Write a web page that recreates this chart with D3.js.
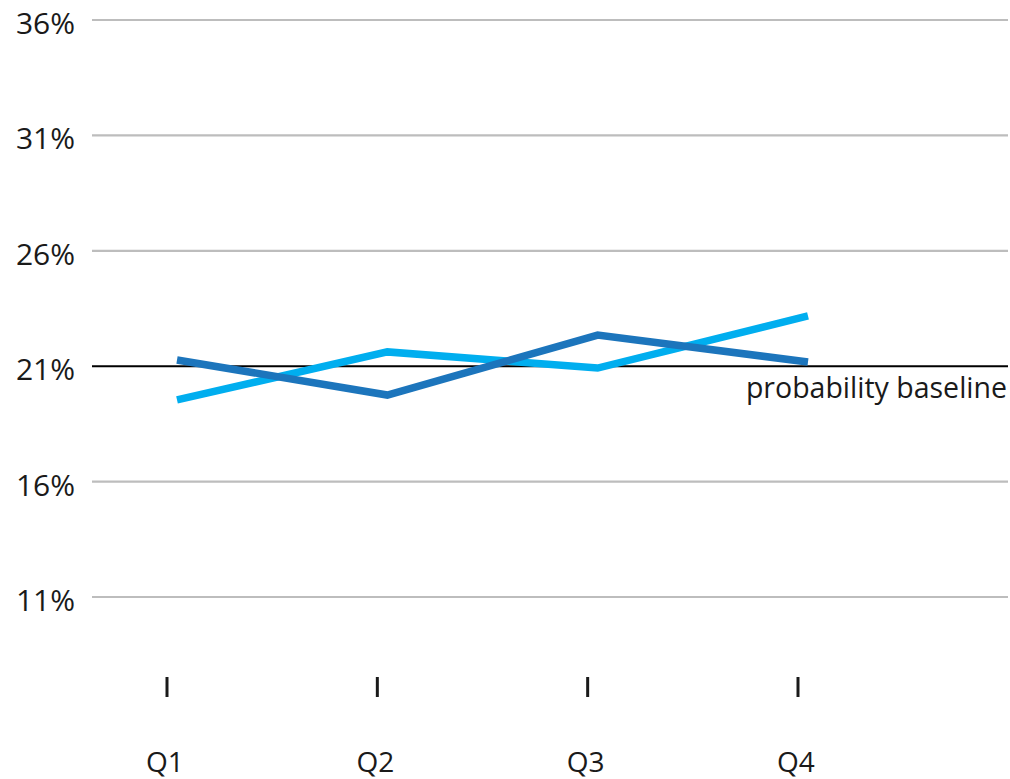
<!DOCTYPE html>
<html>
<head>
<meta charset="utf-8">
<script src="https://cdn.jsdelivr.net/npm/d3@7/dist/d3.min.js"></script>
<style>
  html, body { margin: 0; padding: 0; background: #fff; }
  svg { display: block; font-family: "Open Sans", sans-serif; }
</style>
</head>
<body>
<svg id="chart" width="1010" height="779"></svg>
<script>
// Quarterly shares (%) for two series against a fixed probability baseline
const quarters = ["Q1", "Q2", "Q3", "Q4"];
const seriesDark = [21.27, 19.75, 22.35, 21.18];
const seriesLight = [19.54, 21.62, 20.92, 23.18];
const yTicks = [11, 16, 21, 26, 31, 36];
const baselineValue = 21;
const baselineLabel = "probability baseline";

const svg = d3.select("#chart");

const y = d3.scaleLinear().domain([11, 36]).range([597, 20]);
const x = d3.scalePoint().domain(quarters).range([167, 798]);
const lineShift = 10;

const gridLeft = 92, gridRight = 1008;

// Horizontal gridlines (baseline is drawn separately in black)
svg.append("g")
  .selectAll("line")
  .data(yTicks.filter(d => d !== baselineValue))
  .join("line")
  .attr("x1", gridLeft).attr("x2", gridRight)
  .attr("y1", d => y(d)).attr("y2", d => y(d))
  .attr("stroke", "#bdbdbd")
  .attr("stroke-width", 2.2);

// Y tick labels
svg.append("g")
  .selectAll("text")
  .data(yTicks)
  .join("text")
  .attr("x", 75)
  .attr("y", d => y(d) + 14)
  .attr("text-anchor", "end")
  .attr("font-size", 30)
  .attr("fill", "#1a1a1a")
  .text(d => d + "%");

// Probability baseline
svg.append("line")
  .attr("x1", gridLeft).attr("x2", gridRight)
  .attr("y1", y(baselineValue)).attr("y2", y(baselineValue))
  .attr("stroke", "#000")
  .attr("stroke-width", 2);

svg.append("text")
  .attr("x", 1007)
  .attr("y", y(baselineValue) + 32)
  .attr("text-anchor", "end")
  .attr("font-size", 28.5)
  .attr("fill", "#1a1a1a")
  .text(baselineLabel);

// Series lines
const line = d3.line()
  .x((d, i) => x(quarters[i]) + lineShift)
  .y(d => y(d));

svg.append("path")
  .datum(seriesLight)
  .attr("d", line)
  .attr("fill", "none")
  .attr("stroke", "#00aeef")
  .attr("stroke-width", 7.5);

svg.append("path")
  .datum(seriesDark)
  .attr("d", line)
  .attr("fill", "none")
  .attr("stroke", "#1c75bc")
  .attr("stroke-width", 7.5);

// Category tick marks and labels
const xAxis = svg.append("g");
xAxis.selectAll("line")
  .data(quarters)
  .join("line")
  .attr("x1", d => x(d)).attr("x2", d => x(d))
  .attr("y1", 677).attr("y2", 697)
  .attr("stroke", "#1a1a1a")
  .attr("stroke-width", 3);

xAxis.selectAll("text")
  .data(quarters)
  .join("text")
  .attr("x", d => x(d) - 2)
  .attr("y", 772)
  .attr("text-anchor", "middle")
  .attr("font-size", 28)
  .attr("fill", "#1a1a1a")
  .text(d => d);
</script>
</body>
</html>
